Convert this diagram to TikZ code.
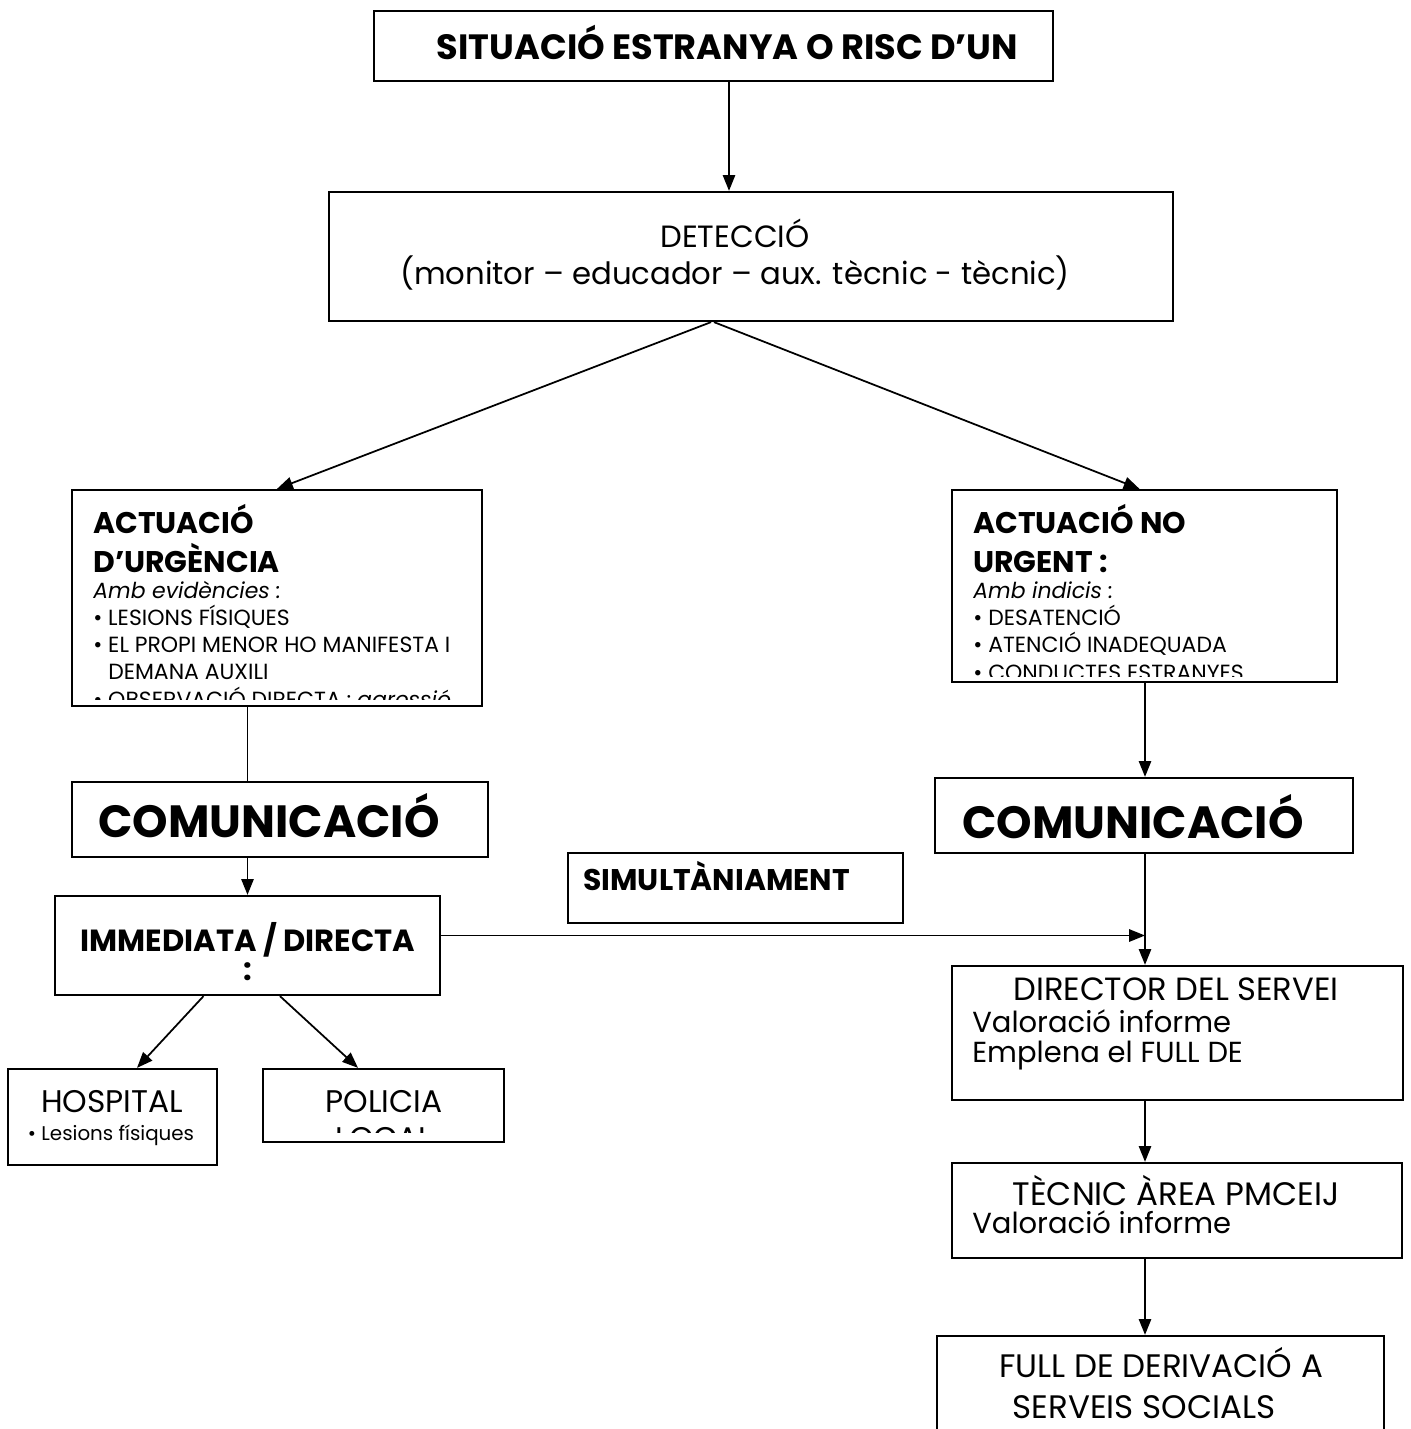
\documentclass[tikz,border=0pt]{standalone}
\usepackage{fontspec}
\setmainfont{Poppins}
\usetikzlibrary{arrows.meta}

\newcommand{\fs}[2]{\fontsize{#1}{#2}\selectfont}

\begin{document}
\begin{tikzpicture}[x=0.02cm,y=-0.02cm,
	>={Triangle[length=9pt,width=7pt]},
	box/.style={draw,line width=1.3pt,inner sep=0pt},
	txt/.style={inner sep=0pt,anchor=base,align=center},
	txtl/.style={inner sep=0pt,anchor=base west,align=left},
	link/.style={line width=1pt}]
	\clip (0,0) rectangle (1410,1429);
	\fill[white] (0,0) rectangle (1410,1429);

	% boxes
	\node[box,minimum width=13.58cm,minimum height=1.4cm] (sit) at (713.5,46) {};
	\node[box,minimum width=16.88cm,minimum height=2.58cm] (det) at (751,256.5) {};
	\node[box,minimum width=8.2cm,minimum height=4.32cm] (urg) at (277,598) {};
	\node[box,minimum width=7.7cm,minimum height=3.84cm] (nou) at (1144.5,586) {};
	\node[box,minimum width=8.32cm,minimum height=1.5cm] (comL) at (280,819.5) {};
	\node[box,minimum width=8.36cm,minimum height=1.5cm] (comR) at (1144,815.5) {};
	\node[box,minimum width=6.7cm,minimum height=1.4cm] (sim) at (735.5,888) {};
	\node[box,minimum width=7.7cm,minimum height=1.98cm] (imm) at (247.5,945.5) {};
	\node[box,minimum width=4.18cm,minimum height=1.92cm] (hos) at (112.5,1117) {};
	\node[box,minimum width=4.82cm,minimum height=1.46cm] (pol) at (383.5,1105.5) {};
	\node[box,minimum width=9.02cm,minimum height=2.68cm] (dir) at (1177.5,1033) {};
	\node[box,minimum width=9cm,minimum height=1.9cm] (tec) at (1177,1210.5) {};
	\node[box,minimum width=8.94cm,minimum height=2.48cm] (full) at (1160.5,1398) {};

	% texts (multi-line nodes sit on the baseline of their last line)
	\node[txt,font=\bfseries\fs{20}{24}] (sitT) at (727.5,60) {SITUACIÓ ESTRANYA O RISC D’UN};
	\node[txt,font=\fs{17.5}{21.5}] (detT) at (735,285) {DETECCIÓ\\(monitor – educador – aux. tècnic - tècnic)};
	\begin{scope}
		\clip (urg.north west) rectangle (470,699);
		\node[txtl,font=\bfseries\fs{17}{22}] (urgH) at (93,572) {ACTUACIÓ\\D’URGÈNCIA};
		\node[txtl,font=\fs{12.5}{15.5}] (urgL) at (93,707) {{\itshape Amb evidències :}\\
			• LESIONS FÍSIQUES\\
			• EL PROPI MENOR HO MANIFESTA I\\
			\phantom{• }DEMANA AUXILI\\
			• OBSERVACIÓ DIRECTA : \itshape agressió};
	\end{scope}
	\begin{scope}
		\clip (nou.north west) rectangle (1330,676);
		\node[txtl,font=\bfseries\fs{17}{22}] (nouH) at (973,572) {ACTUACIÓ NO\\URGENT :};
		\node[txtl,font=\fs{12.5}{15.5}] (nouL) at (973,680) {{\itshape Amb indicis :}\\
			• DESATENCIÓ\\
			• ATENCIÓ INADEQUADA\\
			• CONDUCTES ESTRANYES};
	\end{scope}
	\node[txt,font=\bfseries\fs{25.7}{30}] (comLT) at (269,837) {COMUNICACIÓ};
	\node[txt,font=\bfseries\fs{25.7}{30}] (comRT) at (1133,838) {COMUNICACIÓ};
	\node[txtl,font=\bfseries\fs{17}{20}] (simT) at (583,890) {SIMULTÀNIAMENT};
	\node[txt,font=\bfseries\fs{17.4}{16}] (immT) at (248,980) {IMMEDIATA / DIRECTA\\:};
	\node[txt,font=\fs{17.8}{20}] (hosT) at (112,1112) {HOSPITAL};
	\node[txt,font=\fs{11.3}{13}] (hosL) at (111,1140) {• Lesions físiques};
	\begin{scope}
		\clip (pol.north west) rectangle (504,1132);
		\node[txt,font=\fs{17.8}{21}] (polT) at (384,1149) {POLICIA\\LOCAL};
	\end{scope}
	\node[txt,font=\fs{18.3}{20}] (dirT) at (1176,1000) {DIRECTOR DEL SERVEI};
	\node[txtl,font=\fs{16.5}{17}] (dirL) at (972,1062) {Valoració informe\\Emplena el FULL DE};
	\node[txt,font=\fs{18.5}{20}] (tecT) at (1176,1205) {TÈCNIC ÀREA PMCEIJ};
	\node[txtl,font=\fs{16.5}{20}] (tecL) at (972,1233) {Valoració informe};
	\node[txt,font=\fs{18.5}{20}] (fullT) at (1161,1377) {FULL DE DERIVACIÓ A};
	\node[txt,font=\fs{18.5}{20}] (fullS) at (1144,1418) {SERVEIS SOCIALS};

	% connectors
	\coordinate (top) at (729,0);
	\coordinate (spine) at (1145,0);
	\coordinate (immR) at ([yshift=0.2cm]imm.east);
	\draw[link,->] (sit.south -| top) -- (det.north -| top);
	\draw[link,->] ([xshift=-0.8cm]det.south) -- (urg.north);
	\draw[link,->] ([xshift=-0.74cm]det.south) -- ([xshift=-0.1cm]nou.north);
	\draw[link] (urg.south -| imm.north) -- (comL.north -| imm.north);
	\draw[link,->] (comL.south -| imm.north) -- (imm.north);
	\draw[link,->] ([xshift=-0.88cm]imm.south) -- ([xshift=0.49cm]hos.north);
	\draw[link,->] ([xshift=0.65cm]imm.south) -- ([xshift=-0.51cm]pol.north);
	\draw[link,->] (immR) -- (immR -| spine);
	\draw[link,->] (nou.south -| spine) -- (comR.north -| spine);
	\draw[link,->] (comR.south -| spine) -- (dir.north -| spine);
	\draw[link,->] (dir.south -| spine) -- (tec.north -| spine);
	\draw[link,->] (tec.south -| spine) -- (full.north -| spine);
\end{tikzpicture}
\end{document}
